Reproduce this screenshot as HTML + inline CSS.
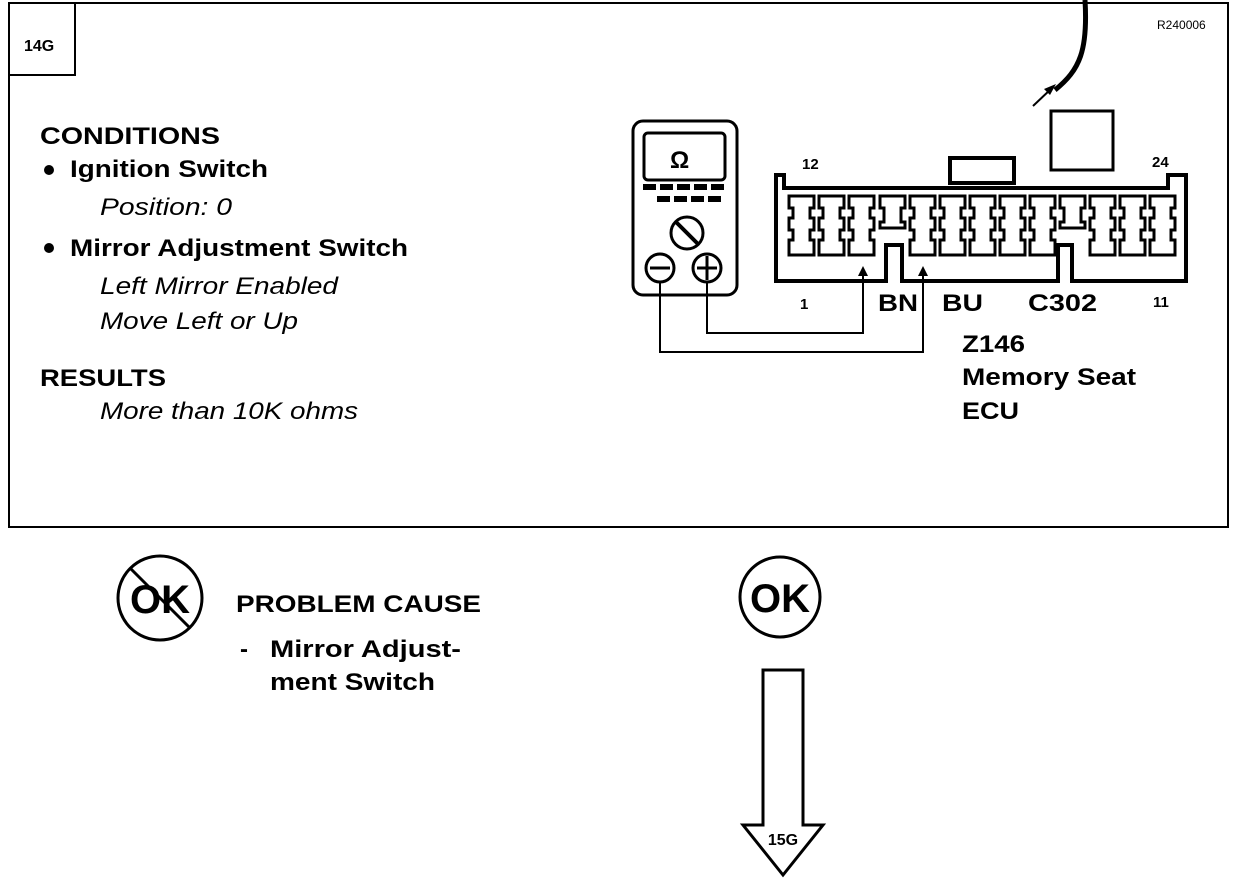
<!DOCTYPE html>
<html><head><style>
body{margin:0;background:#fff;}
svg{display:block}
text{font-family:"Liberation Sans",Arial,sans-serif;fill:#000}
.b{font-weight:bold}
.i{font-style:italic}
</style></head><body>
<svg width="1248" height="882" viewBox="0 0 1248 882" xmlns="http://www.w3.org/2000/svg">
<rect x="9" y="3" width="1219" height="524" fill="none" stroke="#000" stroke-width="2"/>
<rect x="9" y="3" width="66" height="72" fill="none" stroke="#000" stroke-width="2"/>
<text x="24" y="51" class="b" font-size="16">14G</text>
<text x="1157" y="29" font-size="12">R240006</text>
<text x="40" y="144" class="b" font-size="24" textLength="180" lengthAdjust="spacingAndGlyphs">CONDITIONS</text>
<circle cx="49" cy="170" r="5"/>
<text x="70" y="177" class="b" font-size="24" textLength="198" lengthAdjust="spacingAndGlyphs">Ignition Switch</text>
<text x="100" y="215" class="i" font-size="24" textLength="132" lengthAdjust="spacingAndGlyphs">Position: 0</text>
<circle cx="49" cy="248" r="5"/>
<text x="70" y="256" class="b" font-size="24" textLength="338" lengthAdjust="spacingAndGlyphs">Mirror Adjustment Switch</text>
<text x="100" y="294" class="i" font-size="24" textLength="238" lengthAdjust="spacingAndGlyphs">Left Mirror Enabled</text>
<text x="100" y="329" class="i" font-size="24" textLength="198" lengthAdjust="spacingAndGlyphs">Move Left or Up</text>
<text x="40" y="386" class="b" font-size="24" textLength="126" lengthAdjust="spacingAndGlyphs">RESULTS</text>
<text x="100" y="419" class="i" font-size="24" textLength="258" lengthAdjust="spacingAndGlyphs">More than 10K ohms</text>
<!-- multimeter -->
<rect x="633" y="121" width="104" height="174" rx="10" fill="none" stroke="#000" stroke-width="3"/>
<rect x="644" y="133" width="81" height="47" rx="4" fill="none" stroke="#000" stroke-width="3"/>
<text x="670" y="168" class="b" font-size="24">Ω</text>
<g fill="#000">
<rect x="643" y="184" width="13" height="6"/><rect x="660" y="184" width="13" height="6"/><rect x="677" y="184" width="13" height="6"/><rect x="694" y="184" width="13" height="6"/><rect x="711" y="184" width="13" height="6"/>
<rect x="657" y="196" width="13" height="6"/><rect x="674" y="196" width="13" height="6"/><rect x="691" y="196" width="13" height="6"/><rect x="708" y="196" width="13" height="6"/>
</g>
<circle cx="687" cy="233" r="16" fill="none" stroke="#000" stroke-width="3"/>
<line x1="676" y1="222" x2="698" y2="244" stroke="#000" stroke-width="4"/>
<circle cx="660" cy="268" r="14" fill="none" stroke="#000" stroke-width="3"/>
<line x1="650" y1="268" x2="670" y2="268" stroke="#000" stroke-width="3"/>
<circle cx="707" cy="268" r="14" fill="none" stroke="#000" stroke-width="3"/>
<line x1="697" y1="268" x2="717" y2="268" stroke="#000" stroke-width="3"/>
<line x1="707" y1="256" x2="707" y2="280" stroke="#000" stroke-width="3"/>
<!-- wires -->
<polyline points="660,282 660,352 923,352 923,268" fill="none" stroke="#000" stroke-width="2"/>
<polyline points="707,282 707,333 863,333 863,268" fill="none" stroke="#000" stroke-width="2"/>
<polygon points="858,276 863,266 868,276"/><polygon points="918,276 923,266 928,276"/>
<!-- connector -->
<path d="M776,175 L784,175 L784,188 L1168,188 L1168,175 L1186,175 L1186,281 L1072,281 L1072,245 L1058,245 L1058,281 L902,281 L902,245 L886,245 L886,281 L776,281 Z" fill="none" stroke="#000" stroke-width="4"/>
<rect x="950" y="158" width="64" height="25" fill="none" stroke="#000" stroke-width="4"/>
<rect x="1051" y="111" width="62" height="59" fill="none" stroke="#000" stroke-width="3"/>
<g fill="none" stroke="#000" stroke-width="3">
<path d="M789,196 h25 v12 h-4 v10 h4 v12 h-4 v10 h4 v15 h-25 v-15 h4 v-10 h-4 v-12 h4 v-10 h-4 z"/>
<path d="M819,196 h25 v12 h-4 v10 h4 v12 h-4 v10 h4 v15 h-25 v-15 h4 v-10 h-4 v-12 h4 v-10 h-4 z"/>
<path d="M849,196 h25 v12 h-4 v10 h4 v12 h-4 v10 h4 v15 h-25 v-15 h4 v-10 h-4 v-12 h4 v-10 h-4 z"/>
<path d="M880,196 h25 v12 h-4 v14 h4 v6 h-25 v-6 h4 v-14 h-4 z"/>
<path d="M910,196 h25 v12 h-4 v10 h4 v12 h-4 v10 h4 v15 h-25 v-15 h4 v-10 h-4 v-12 h4 v-10 h-4 z"/>
<path d="M940,196 h25 v12 h-4 v10 h4 v12 h-4 v10 h4 v15 h-25 v-15 h4 v-10 h-4 v-12 h4 v-10 h-4 z"/>
<path d="M970,196 h25 v12 h-4 v10 h4 v12 h-4 v10 h4 v15 h-25 v-15 h4 v-10 h-4 v-12 h4 v-10 h-4 z"/>
<path d="M1000,196 h25 v12 h-4 v10 h4 v12 h-4 v10 h4 v15 h-25 v-15 h4 v-10 h-4 v-12 h4 v-10 h-4 z"/>
<path d="M1030,196 h25 v12 h-4 v10 h4 v12 h-4 v10 h4 v15 h-25 v-15 h4 v-10 h-4 v-12 h4 v-10 h-4 z"/>
<path d="M1060,196 h25 v12 h-4 v14 h4 v6 h-25 v-6 h4 v-14 h-4 z"/>
<path d="M1090,196 h25 v12 h-4 v10 h4 v12 h-4 v10 h4 v15 h-25 v-15 h4 v-10 h-4 v-12 h4 v-10 h-4 z"/>
<path d="M1120,196 h25 v12 h-4 v10 h4 v12 h-4 v10 h4 v15 h-25 v-15 h4 v-10 h-4 v-12 h4 v-10 h-4 z"/>
<path d="M1150,196 h25 v12 h-4 v10 h4 v12 h-4 v10 h4 v15 h-25 v-15 h4 v-10 h-4 v-12 h4 v-10 h-4 z"/>
</g>
<path d="M1085,0 C1088,50 1080,70 1055,90" fill="none" stroke="#000" stroke-width="5"/>
<line x1="1033" y1="106" x2="1052" y2="88" stroke="#000" stroke-width="2"/>
<polygon points="1056,84 1044,89 1050,95"/>
<text x="802" y="169" class="b" font-size="15">12</text>
<text x="1152" y="167" class="b" font-size="15">24</text>
<text x="800" y="309" class="b" font-size="15">1</text>
<text x="1153" y="307" class="b" font-size="15">11</text>
<text x="878" y="311" class="b" font-size="24" textLength="40" lengthAdjust="spacingAndGlyphs">BN</text>
<text x="942" y="311" class="b" font-size="24" textLength="41" lengthAdjust="spacingAndGlyphs">BU</text>
<text x="1028" y="311" class="b" font-size="24" textLength="69" lengthAdjust="spacingAndGlyphs">C302</text>
<text x="962" y="352" class="b" font-size="24" textLength="63" lengthAdjust="spacingAndGlyphs">Z146</text>
<text x="962" y="385" class="b" font-size="24" textLength="174" lengthAdjust="spacingAndGlyphs">Memory Seat</text>
<text x="962" y="419" class="b" font-size="24" textLength="57" lengthAdjust="spacingAndGlyphs">ECU</text>
<!-- not ok -->
<circle cx="160" cy="598" r="42" fill="none" stroke="#000" stroke-width="3"/>
<text x="160" y="613" text-anchor="middle" class="b" font-size="40">OK</text>
<line x1="130" y1="568" x2="190" y2="628" stroke="#000" stroke-width="3"/>
<text x="236" y="612" class="b" font-size="24" textLength="245" lengthAdjust="spacingAndGlyphs">PROBLEM CAUSE</text>
<text x="240" y="657" class="b" font-size="24">-</text>
<text x="270" y="657" class="b" font-size="24" textLength="191" lengthAdjust="spacingAndGlyphs">Mirror Adjust-</text>
<text x="270" y="690" class="b" font-size="24" textLength="165" lengthAdjust="spacingAndGlyphs">ment Switch</text>
<!-- ok -->
<circle cx="780" cy="597" r="40" fill="none" stroke="#000" stroke-width="3"/>
<text x="780" y="612" text-anchor="middle" class="b" font-size="40">OK</text>
<path d="M763,670 H803 V825 H823 L783,875 L743,825 H763 Z" fill="none" stroke="#000" stroke-width="3"/>
<text x="783" y="845" text-anchor="middle" class="b" font-size="16">15G</text>
</svg>
</body></html>
